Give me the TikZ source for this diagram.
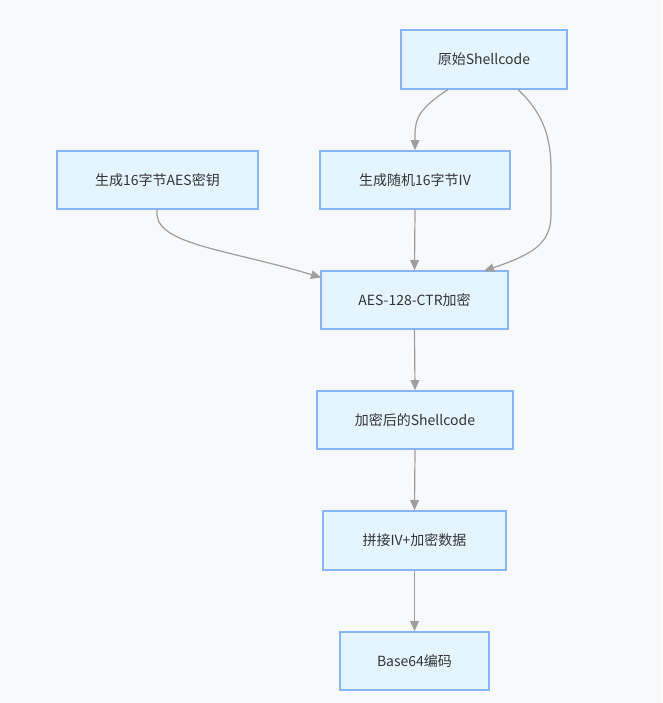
\documentclass[tikz,border=0pt]{standalone}
\usepackage{fontspec}
\setmainfont{Noto Sans CJK SC}
\usetikzlibrary{arrows.meta}
\definecolor{bgc}{HTML}{F8F9FA}
\definecolor{boxfill}{HTML}{E5F5FF}
\definecolor{boxline}{HTML}{8AB4F8}
\definecolor{edgec}{HTML}{9E9E9E}
\definecolor{txt}{HTML}{333333}
\begin{document}
\begin{tikzpicture}[x=0.75pt,y=-0.75pt,
  box/.style={draw=boxline,fill=boxfill,line width=1.2pt,rectangle,inner sep=0pt,text=txt,font=\fontsize{10.5pt}{12pt}\selectfont},
  edge/.style={draw=edgec,line width=0.9pt,-{Triangle[length=7.5pt,width=6.5pt]}}]
\fill[bgc] (0,0) rectangle (662,703);
\useasboundingbox (0,0) rectangle (662,703);
\node[box,minimum width=166*0.75pt,minimum height=59*0.75pt] (src) at (484,59.5) {原始Shellcode};
\node[box,minimum width=201*0.75pt,minimum height=58*0.75pt] (key) at (157.5,180) {生成16字节AES密钥};
\node[box,minimum width=190*0.75pt,minimum height=58*0.75pt] (iv) at (415,180) {生成随机16字节IV};
\node[box,minimum width=187*0.75pt,minimum height=58*0.75pt] (ctr) at (414.5,300) {AES-128-CTR加密};
\node[box,minimum width=196*0.75pt,minimum height=58*0.75pt] (enc) at (415,420) {加密后的Shellcode};
\node[box,minimum width=183*0.75pt,minimum height=59*0.75pt] (cat) at (414.5,540.5) {拼接IV+加密数据};
\node[box,minimum width=149*0.75pt,minimum height=58*0.75pt] (b64) at (414.5,661) {Base64编码};
\coordinate (s1) at (448,89.5);
\coordinate (s2) at (518,89.5);
\coordinate (k1) at (157,209);
\draw[edge] (s1) .. controls (420,108) and (415,118) .. (415,135) -- (iv.north);
\draw[edge] (s2) .. controls (545,115) and (551,140) .. (551,170) -- (551,215) .. controls (551,245) and (530,255) .. (484,271);
\draw[edge] (k1) -- (157,215) .. controls (160,245) and (230,250) .. (321,277.5);
\draw[edge] (iv.south) -- (ctr.north);
\draw[edge] (ctr.south) -- (enc.north);
\draw[edge] (enc.south) -- (cat.north);
\draw[edge] (cat.south) -- (b64.north);
\end{tikzpicture}
\end{document}
